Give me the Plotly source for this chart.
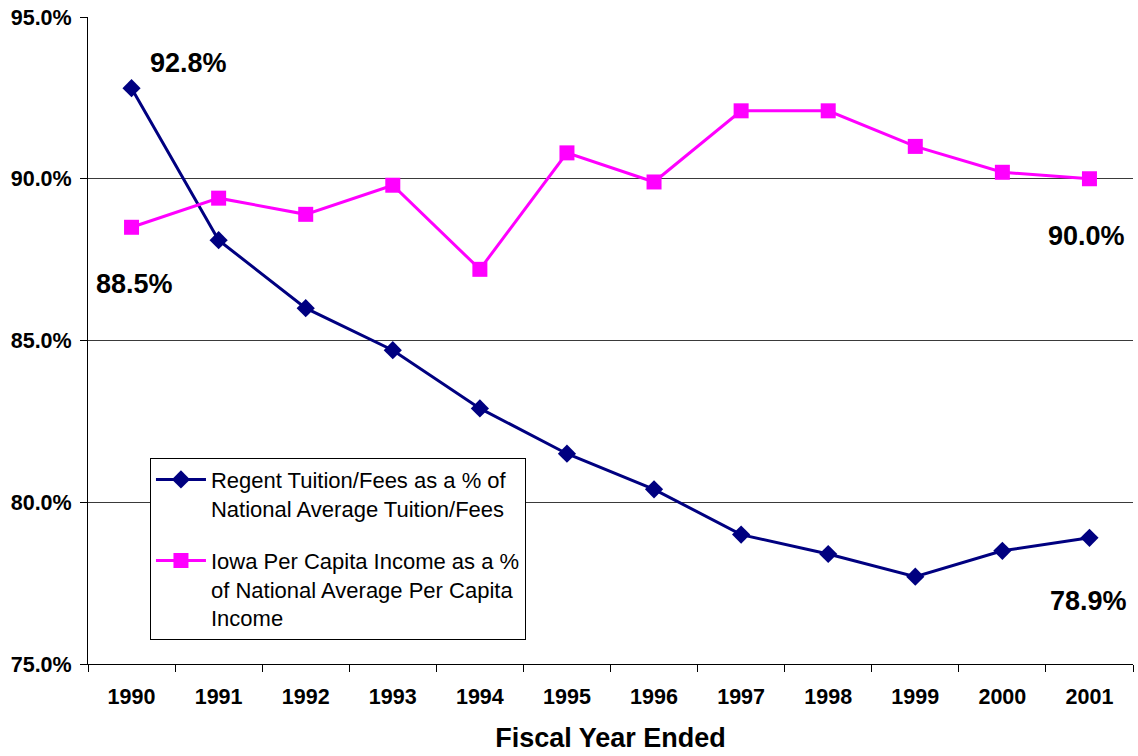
import plotly.graph_objects as go

years = ["1990", "1991", "1992", "1993", "1994", "1995", "1996", "1997", "1998", "1999", "2000", "2001"]
tuition_pct = [92.8, 88.1, 86.0, 84.7, 82.9, 81.5, 80.4, 79.0, 78.4, 77.7, 78.5, 78.9]
income_pct = [88.5, 89.4, 88.9, 89.8, 87.2, 90.8, 89.9, 92.1, 92.1, 91.0, 90.2, 90.0]

tuition_name = "Regent Tuition/Fees as a % of<br>National Average Tuition/Fees"
income_name = "Iowa Per Capita Income as a %<br>of National Average Per Capita<br>Income"

FONT = "Arial, Liberation Sans, sans-serif"
NAVY = "#000080"
MAGENTA = "#FF00FF"

fig = go.Figure()
fig.add_trace(go.Scatter(
    x=years, y=tuition_pct, name=tuition_name, mode="lines+markers",
    line=dict(color=NAVY, width=3),
    marker=dict(symbol="diamond", size=14, color=NAVY),
    legendgroup="a",
))
fig.add_trace(go.Scatter(
    x=years, y=income_pct, name=income_name, mode="lines+markers",
    line=dict(color=MAGENTA, width=3),
    marker=dict(symbol="square", size=15, color=MAGENTA),
    legendgroup="b",
))

# value labels for first/last points
label_style = dict(showarrow=False, font=dict(family=FONT, size=27, color="black", weight="bold"),
                   xref="x", yref="y")
fig.add_annotation(x=0.654, y=93.58, text=f"{tuition_pct[0]:.1f}%", **label_style)
fig.add_annotation(x=0.03, y=86.75, text=f"{income_pct[0]:.1f}%", **label_style)
fig.add_annotation(x=10.97, y=88.23, text=f"{income_pct[-1]:.1f}%", **label_style)
fig.add_annotation(x=10.99, y=76.95, text=f"{tuition_pct[-1]:.1f}%", **label_style)

fig.update_layout(
    width=1138, height=756,
    margin=dict(l=88, r=5, t=17, b=92, autoexpand=False),
    paper_bgcolor="white", plot_bgcolor="white",
    font=dict(family=FONT, color="black"),
    showlegend=True,
    legend=dict(
        x=0.0593, y=0.319, xanchor="left", yanchor="top",
        bgcolor="white", bordercolor="black", borderwidth=1,
        font=dict(family=FONT, size=22, color="black"),
        valign="top", traceorder="grouped", tracegroupgap=21,
        itemwidth=50,
    ),
    xaxis=dict(
        type="category", tickson="boundaries", ticks="outside", ticklen=7,
        tickcolor="black", showline=True, linecolor="black", linewidth=1,
        showgrid=False, range=[-0.5, 11.5], automargin=False,
        tickfont=dict(family=FONT, size=21.5, color="black", weight="bold"),
        ticklabelstandoff=13,
        title=dict(text="Fiscal Year Ended", standoff=20,
                   font=dict(family=FONT, size=27, color="black", weight="bold")),
    ),
    yaxis=dict(
        range=[75, 95], dtick=5, tick0=75, tickformat=".1f", ticksuffix="%",
        ticks="outside", ticklen=7, tickcolor="black",
        showline=True, linecolor="black", linewidth=1,
        showgrid=True, gridcolor="#3a3a3a", gridwidth=1, zeroline=False,
        tickfont=dict(family=FONT, size=21.5, color="black", weight="bold"),
        ticklabelstandoff=4, ticklabeloverflow="allow", automargin=False,
    ),
)

fig.write_html("out.html", config=dict(displayModeBar=False),
               post_script="document.body.style.margin='0';")
